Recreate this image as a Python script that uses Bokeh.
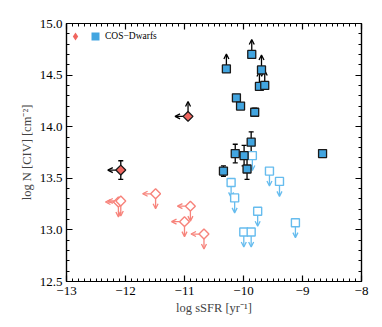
from bokeh.plotting import figure
from bokeh.models import (ColumnDataSource, Arrow, OpenHead, Whisker, TeeHead,
                          FixedTicker, LinearAxis, Legend, LegendItem, Range1d)
from bokeh.embed import file_html
from bokeh.resources import INLINE
import numpy as np

# ---------------- data ----------------
# Blue filled squares: detections (log sSFR, log N CIV, error)
det_x = [-10.12, -10.05, -9.81, -8.66, -9.87, -10.14, -9.99, -9.94, -10.34]
det_y = [14.28, 14.20, 14.14, 13.74, 13.85, 13.74, 13.72, 13.59, 13.57]
det_err = [0.0, 0.0, 0.04, 0.03, 0.10, 0.09, 0.10, 0.10, 0.05]

# Blue filled squares: lower limits (saturated)
low_x = [-10.29, -9.86, -9.695, -9.73, -9.64]
low_y = [14.56, 14.70, 14.55, 14.39, 14.40]

# Blue open squares: upper limits
upp_x = [-9.85, -10.21, -10.15, -9.56, -9.39, -9.76, -9.995, -9.87, -9.12]
upp_y = [13.72, 13.46, 13.31, 13.57, 13.47, 13.18, 12.98, 12.98, 13.07]

# Red filled diamonds (sSFR upper limits)
rdet_x = [-10.94, -12.08]
rdet_y = [14.10, 13.58]
rdet_err = [0.0, 0.09]
rdet_lowlim = [True, False]

# Red open diamonds: upper limits in both quantities
rup_x = [-12.12, -12.08, -11.49, -10.90, -11.00, -10.67]
rup_y = [13.27, 13.28, 13.35, 13.23, 13.08, 12.96]

x_ticks = [-13, -12, -11, -10, -9, -8]
x_tick_labels = ["\u221213", "\u221212", "\u221211", "\u221210", "\u22129", "\u22128"]
y_ticks = [12.5, 13.0, 13.5, 14.0, 14.5, 15.0]
y_tick_labels = ["12.5", "13.0", "13.5", "14.0", "14.5", "15.0"]

legend_label = "COS\u2212Dwarfs"
x_label = "log sSFR [yr\u207b\u00b9]"
y_label = "log N [CIV] [cm\u207b\u00b2]"

# ---------------- style ----------------
FONT = "Liberation Serif"
BLUE = "#42A5E0"
RED = "#F0655E"
BLUE_OPEN = "#66BCEE"
RED_OPEN = "#F7837B"
AX = 0.145   # arrow length in y (data)
AXX = 0.22   # arrow length in x (data)
FRAME_W, FRAME_H = 295, 258

p = figure(frame_width=FRAME_W, frame_height=FRAME_H, output_backend="svg", toolbar_location=None,
           x_range=Range1d(-13, -8), y_range=Range1d(12.5, 15.0),
           min_border_left=66, min_border_right=8, min_border_top=23,
           min_border_bottom=30, x_axis_location=None, y_axis_location=None)
p.grid.visible = False
p.outline_line_color = "black"
p.outline_line_width = 1.2
p.background_fill_color = "white"


def style_axis(ax, ticks, labels, nminor, show_labels):
    ax.ticker = FixedTicker(ticks=ticks,
                            minor_ticks=list(np.round(np.arange(ticks[0], ticks[-1] + 1e-9,
                                                                (ticks[1] - ticks[0]) / nminor), 3)))
    ax.major_label_overrides = {t: (l if show_labels else "") for t, l in zip(ticks, labels)}
    ax.major_tick_in = 6
    ax.major_tick_out = 0
    ax.minor_tick_in = 3
    ax.minor_tick_out = 0
    ax.axis_line_color = "black"
    ax.axis_line_width = 1.2
    ax.major_tick_line_width = 1.2
    ax.minor_tick_line_width = 1
    ax.major_label_text_font = FONT
    ax.major_label_text_font_size = "13px" if show_labels else "0px"
    ax.major_label_text_color = "black"
    ax.major_label_standoff = 5
    ax.axis_label_text_font = FONT
    ax.axis_label_text_font_size = "12.5px"
    ax.axis_label_text_font_style = "normal"
    ax.axis_label_standoff = 3


xb = LinearAxis(axis_label=x_label)
style_axis(xb, x_ticks, x_tick_labels, 10, True)
p.add_layout(xb, "below")
xt = LinearAxis()
style_axis(xt, x_ticks, x_tick_labels, 10, False)
xt.major_label_standoff = 0
p.add_layout(xt, "above")
yl = LinearAxis(axis_label=y_label)
style_axis(yl, y_ticks, y_tick_labels, 5, True)
yl.major_label_orientation = "horizontal"
yl.major_label_standoff = 4
p.add_layout(yl, "left")
yr = LinearAxis()
style_axis(yr, y_ticks, y_tick_labels, 5, False)
yr.major_label_standoff = 0
p.add_layout(yr, "right")


def arrows(xs, ys, xe, ye, color, width=1.3, size=5):
    src = ColumnDataSource(dict(x0=xs, y0=ys, x1=xe, y1=ye))
    a = Arrow(end=OpenHead(size=size, line_color=color, line_width=width),
              x_start="x0", y_start="y0", x_end="x1", y_end="y1",
              line_color=color, line_width=width, source=src, level="underlay")
    p.add_layout(a)


def whiskers(xs, ys, es):
    xs2 = [x for x, e in zip(xs, es) if e > 0]
    ys2 = [y for y, e in zip(ys, es) if e > 0]
    es2 = [e for e in es if e > 0]
    src = ColumnDataSource(dict(x=xs2, lo=[y - e for y, e in zip(ys2, es2)],
                                hi=[y + e for y, e in zip(ys2, es2)]))
    w = Whisker(base="x", lower="lo", upper="hi", source=src, dimension="height",
                line_color="black", line_width=1.3, level="underlay",
                upper_head=TeeHead(size=5, line_color="black", line_width=1.3),
                lower_head=TeeHead(size=5, line_color="black", line_width=1.3))
    p.add_layout(w)


# error bars
whiskers(det_x, det_y, det_err)
whiskers(rdet_x, rdet_y, rdet_err)

# arrows: blue lower limits (up)
arrows(low_x, low_y, low_x, [y + AX for y in low_y], "black")
# red filled diamonds: left arrows, and up arrow for lower limit
arrows(rdet_x, rdet_y, [x - AXX for x in rdet_x], rdet_y, "black")
rl_x = [x for x, f in zip(rdet_x, rdet_lowlim) if f]
rl_y = [y for y, f in zip(rdet_y, rdet_lowlim) if f]
arrows(rl_x, rl_y, rl_x, [y + AX for y in rl_y], "black")
# blue open: down
arrows(upp_x, upp_y, upp_x, [y - AX for y in upp_y], BLUE_OPEN)
# red open: down and left
arrows(rup_x, rup_y, rup_x, [y - AX for y in rup_y], RED_OPEN)
arrows(rup_x, rup_y, [x - AXX for x in rup_x], rup_y, RED_OPEN)

# markers
p.scatter(upp_x, upp_y, marker="square", size=8, fill_color="white",
          line_color=BLUE_OPEN, line_width=1.4)
p.scatter(rup_x, rup_y, marker="square", angle=np.pi / 4, size=7, fill_color="white",
          line_color=RED_OPEN, line_width=1.4)

# fill-only copies (hidden under the outlined markers) used as legend glyphs
lg_blue = p.scatter(det_x, det_y, marker="square", size=7, fill_color=BLUE, line_color=None)
lg_red = p.scatter(rdet_x, rdet_y, marker="diamond", size=7,
                   fill_color=RED, line_color=None)

p.scatter(det_x, det_y, marker="square", size=8, fill_color=BLUE,
          line_color="#1a1a1a", line_width=1.3)
p.scatter(low_x, low_y, marker="square", size=8, fill_color=BLUE,
          line_color="#1a1a1a", line_width=1.3)
p.scatter(rdet_x, rdet_y, marker="square", angle=np.pi / 4, size=7, fill_color=RED,
          line_color="#1a1a1a", line_width=1.3)

# legend (tuple location = bottom-left corner of the box, from the frame's bottom-left)
GW = 20  # legend marker is drawn at 0.4 * glyph box
legend = Legend(items=[LegendItem(label="", renderers=[lg_red]),
                       LegendItem(label=legend_label, renderers=[lg_blue])],
                orientation="horizontal", location=(-1, FRAME_H - 22.5),
                border_line_color=None, background_fill_alpha=0,
                glyph_width=GW, glyph_height=GW, label_width=0, label_height=GW,
                label_standoff=0, spacing=-10, padding=0, margin=0,
                label_text_font=FONT, label_text_font_size="9.5px",
                label_text_color="black", label_text_baseline="middle")
p.add_layout(legend)

open("out.html", "w").write(file_html(p, INLINE))
